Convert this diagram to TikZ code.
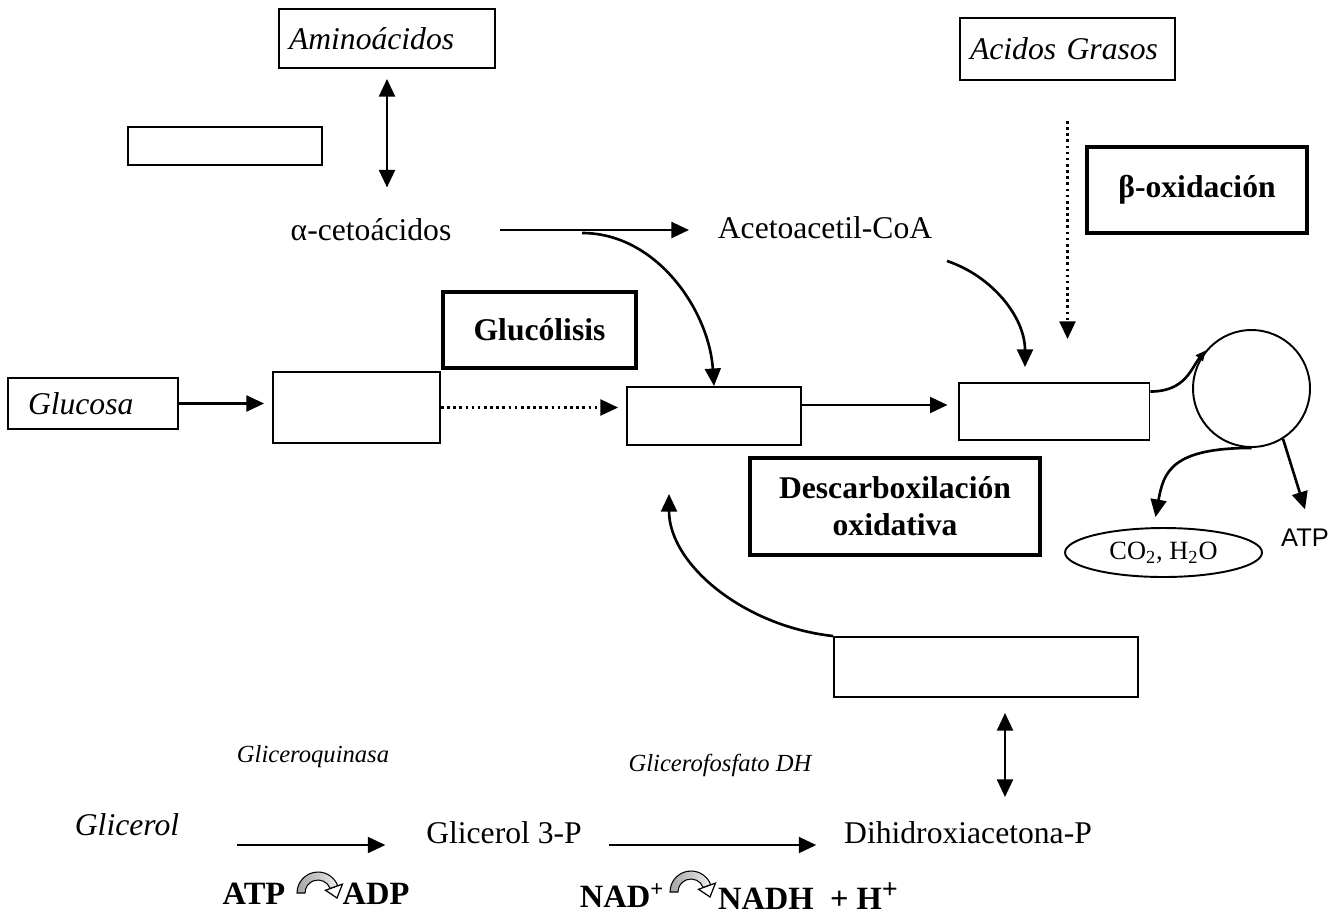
\documentclass[tikz,border=0pt]{standalone}
\usepackage{fontspec}
\setmainfont{Liberation Serif}
\newfontfamily\arialfont{Liberation Sans}
\usetikzlibrary{arrows.meta,shapes.geometric}

\begin{document}
\begin{tikzpicture}[x=0.02cm,y=-0.02cm,
    txt/.style={font=\fontsize{18}{21}\selectfont, inner sep=2pt},
    ital/.style={font=\fontsize{18}{21}\selectfont\itshape, inner sep=2pt},
    enz/.style={font=\fontsize{14}{16}\selectfont\itshape, inner sep=2pt},
    cof/.style={font=\fontsize{18.5}{21}\selectfont\bfseries, inner sep=2pt},
    box/.style={draw, line width=1.1pt},
    lbox/.style={box, ital, align=left},
    stagebox/.style={draw, line width=2.4pt, align=center,
        font=\fontsize{18}{21}\selectfont\bfseries},
    tip/.style={-{Triangle[length=10pt,width=9pt]}},
    arr/.style={line width=1.5pt, tip},
    dbl/.style={line width=1.5pt,
        {Triangle[length=10pt,width=9pt]}-{Triangle[length=10pt,width=9pt]}},
    turnarrow/.pic={
        \path[draw, line width=0.6pt, left color=gray!70, right color=gray!15]
            (-21,0) arc[start angle=180, end angle=340, radius=21]
            -- (340:13) arc[start angle=340, end angle=180, radius=13]
            -- cycle;
        \filldraw[fill=white, line width=0.7pt] (340:26) -- (19,5) -- (340:8) -- cycle;
    }]
    \useasboundingbox (0,0) rectangle (1344,920);

    % boxes
    \node[lbox, text width=3.92cm, inner xsep=0.2cm, minimum height=1.18cm] (amino) at (387,38.5) {Aminoácidos};
    \node[box, minimum width=3.88cm, minimum height=0.76cm] (blank) at (225,146) {};
    \node[lbox, text width=3.9cm, inner xsep=0.2cm, minimum height=1.24cm] (acids) at (1067.5,49) {Acidos Grasos};
    \node[stagebox, minimum width=4.4cm, minimum height=1.72cm] (betaox) at (1197,190) {β-oxidación};
    \node[stagebox, minimum width=3.86cm, minimum height=1.52cm] (gluco) at (539.5,330) {Glucólisis};
    \node[lbox, text width=2.6cm, inner xsep=0.4cm, minimum height=1.02cm] (glc) at (93,403.5) {Glucosa};
    \node[box, minimum width=3.34cm, minimum height=1.42cm] (box2) at (356.5,407.5) {};
    \node[box, minimum width=3.48cm, minimum height=1.16cm] (box3) at (714,416) {};
    \node[box, minimum width=3.82cm, minimum height=1.14cm] (box4) at (1054,411.5) {};
    \node[box, circle, minimum size=2.34cm] (cyc) at (1251.5,388.5) {};
    \node[stagebox, minimum width=5.8cm, minimum height=1.94cm] (decarb) at (895,506.5) {Descarboxilación\\oxidativa};
    \node[box, ellipse, minimum width=3.94cm, minimum height=0.98cm, font=\fontsize{15}{17}\selectfont] (ell) at (1163.5,552.5) {CO\textsubscript{2}, H\textsubscript{2}O};
    \node[box, minimum width=6.08cm, minimum height=1.2cm] (bbox) at (986,667) {};

    % metabolites and enzymes
    \path
        (371,230) node[txt] (keto) {α-cetoácidos}
        (825,228) node[txt] (acoa) {Acetoacetil-CoA}
        (1305,538) node[inner sep=2pt, font=\arialfont\fontsize{14.5}{16}\selectfont] (atp) {ATP}
        (313,757) node[enz] (quin) {Gliceroquinasa}
        (720,765) node[enz] (gdh) {Glicerofosfato DH}
        (127,825) node[ital] (glyc) {Glicerol}
        (504,833) node[txt] (g3p) {Glicerol 3-P}
        (968,833) node[txt] (dhap) {Dihidroxiacetona-P}
        (254,894) node[cof] (atpb) {ATP}
        (376,894) node[cof] (adp) {ADP}
        (622,896) node[cof] (nad) {NAD\textsuperscript{+}}
        (808,896) node[cof] (nadh) {NADH\ \ + H\raisebox{0.35em}{\fontsize{16}{16}\selectfont +}};
    \pic at (318,893) {turnarrow};
    \pic at (691,892) {turnarrow};

    \coordinate (split) at (582,233);
    \draw[dbl, shorten <=0.2cm, shorten >=0.55cm] (amino.south) -- (amino.south |- keto.north);
    \draw[arr, shorten <=0.9cm, shorten >=0.5cm] (keto.east) -- (keto.east -| acoa.west);
    \draw[arr] (split) .. controls +(75,0) and +(-5,-75) .. (box3.north);
    \draw[arr] ([shift={(11,18)}]acoa.south east) .. controls +(45,15) and +(0,-50) .. ([shift={(-29,-15)}]box4.north);
    \draw[arr, dotted, shorten <=0.8cm, shorten >=0.86cm] (acids.south) -- (acids.south |- box4.north);
    \draw[arr, shorten >=0.16cm] (glc.east) -- (glc.east -| box2.west);
    \draw[arr, dotted, shorten >=0.16cm] (box2.east) -- (box2.east -| box3.west);
    \draw[arr, shorten >=0.2cm] ([shift={(0,-11)}]box3.east) -- ([shift={(0,-11)}]box3.east -| box4.west);
    \draw[line width=1.5pt, -{Triangle[length=6pt,width=5pt]}] ([shift={(0,-20)}]box4.east) .. controls +(35,0) and +(-15,18) .. (cyc.140);
    \draw[arr] (cyc.south) .. controls +(-80,0) and +(8,-45) .. ([shift={(-8,-10)}]ell.north);
    \draw[arr] (cyc.-58) -- ([shift={(0,-16)}]atp.north);
    \draw[arr] (bbox.north west) .. controls +(-90,-10) and +(0,70) .. ([shift={(-45,48)}]box3.south);
    \draw[dbl, shorten <=0.3cm, shorten >=0.42cm] ([shift={(19,0)}]bbox.south) -- ([shift={(19,0)}]bbox.south |- dhap.north);
    \draw[arr] ([shift={(54,20)}]glyc.east) -- ([shift={(-37,12)}]g3p.west);
    \draw[arr] ([shift={(23,12)}]g3p.east) -- ([shift={(-24,12)}]dhap.west);
\end{tikzpicture}
\end{document}
